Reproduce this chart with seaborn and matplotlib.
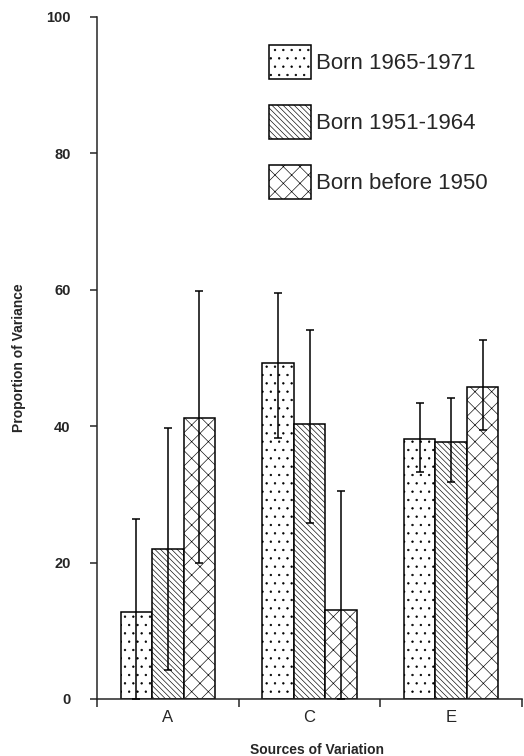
import numpy as np
import pandas as pd
import matplotlib
matplotlib.use("Agg")
import matplotlib.pyplot as plt
import seaborn as sns

# ─── Data ─────────────────────────────────────────────────────────────────────
sources = ["A", "C", "E"]
cohorts = ["Born 1965-1971", "Born 1951-1964", "Born before 1950"]

# proportion of variance per cohort, in source order A, C, E
born_1965 = [12.7, 49.2, 38.1]
born_1951 = [22.0, 40.3, 37.7]
born_pre50 = [41.2, 13.1, 45.8]

# confidence interval bounds (low, high)
low_1965 = [0.0, 38.3, 33.3]
high_1965 = [26.4, 59.6, 43.4]
low_1951 = [4.2, 25.8, 31.8]
high_1951 = [39.8, 54.1, 44.2]
low_pre50 = [19.9, 0.0, 39.4]
high_pre50 = [59.8, 30.5, 52.7]

y_ticks = [0, 20, 40, 60, 80, 100]

values = [born_1965, born_1951, born_pre50]
lows = [low_1965, low_1951, low_pre50]
highs = [high_1965, high_1951, high_pre50]
hatches = ["..", "\\\\\\\\\\\\", "xx"]

rows = []
for cohort, vals in zip(cohorts, values):
    for src, v in zip(sources, vals):
        rows.append({"source": src, "cohort": cohort, "value": v})
df = pd.DataFrame(rows)

sns.set_style("ticks")
plt.rcParams["font.family"] = ["Liberation Sans", "DejaVu Sans"]
plt.rcParams["hatch.linewidth"] = 0.45
plt.rcParams["axes.linewidth"] = 1.1

fig = plt.figure(figsize=(5.24, 7.56), dpi=100)
ax = fig.add_axes([97 / 524, 1 - 699 / 756, 425 / 524, 682 / 756])

sns.barplot(data=df, x="source", y="value", hue="cohort", order=sources,
            hue_order=cohorts, palette=["white"] * 3, width=0.667,
            edgecolor="black", linewidth=1.1, saturation=1, errorbar=None,
            legend=False, ax=ax)

# hatches + asymmetric error bars
for cont, hatch, vals, lo, hi in zip(ax.containers, hatches, values, lows, highs):
    xs = []
    for p in cont.patches:
        p.set_hatch(hatch)
        p.set_facecolor("white")
        p.set_edgecolor("black")
        xs.append(p.get_x() + p.get_width() / 2)
    vals = np.array(vals)
    yerr = [vals - np.array(lo), np.array(hi) - vals]
    ax.errorbar(xs, vals, yerr=yerr, fmt="none", ecolor="black",
                elinewidth=1.1, capsize=3, capthick=1.1, zorder=5)

ax.set_xlim(-0.5, 2.5)
ax.set_ylim(0, 100)
ax.set_yticks(y_ticks)
ax.set_yticklabels([str(t) for t in y_ticks], fontweight="bold", fontsize=10.5)
ax.tick_params(axis="y", length=5, width=1.1, pad=14, direction="out")

# category labels at centres, tick marks at the boundaries
ax.set_xticks(range(len(sources)))
ax.set_xticklabels(sources, fontsize=12)
ax.set_xticks(np.arange(-0.5, len(sources), 1.0), minor=True)
ax.tick_params(axis="x", which="major", length=0, pad=8)
ax.tick_params(axis="x", which="minor", length=6, width=1.1, direction="out")

sns.despine(ax=ax)

ax.set_xlabel("Sources of Variation", fontweight="bold", fontsize=10)
ax.set_ylabel("Proportion of Variance", fontweight="bold", fontsize=10)
ax.xaxis.set_label_coords(0.518, -0.064)
ax.yaxis.set_label_coords(-0.167, 0.5)

ax.legend(ax.containers, cohorts, loc="upper left",
          bbox_to_anchor=(269 / 524, 1 - 45 / 756), bbox_transform=fig.transFigure,
          frameon=False, fontsize=16, handlelength=1.9, handleheight=2.0,
          handletextpad=0.2, labelspacing=1.15, borderpad=0, borderaxespad=0)

plt.savefig("out.png", dpi=100)
plt.close()
